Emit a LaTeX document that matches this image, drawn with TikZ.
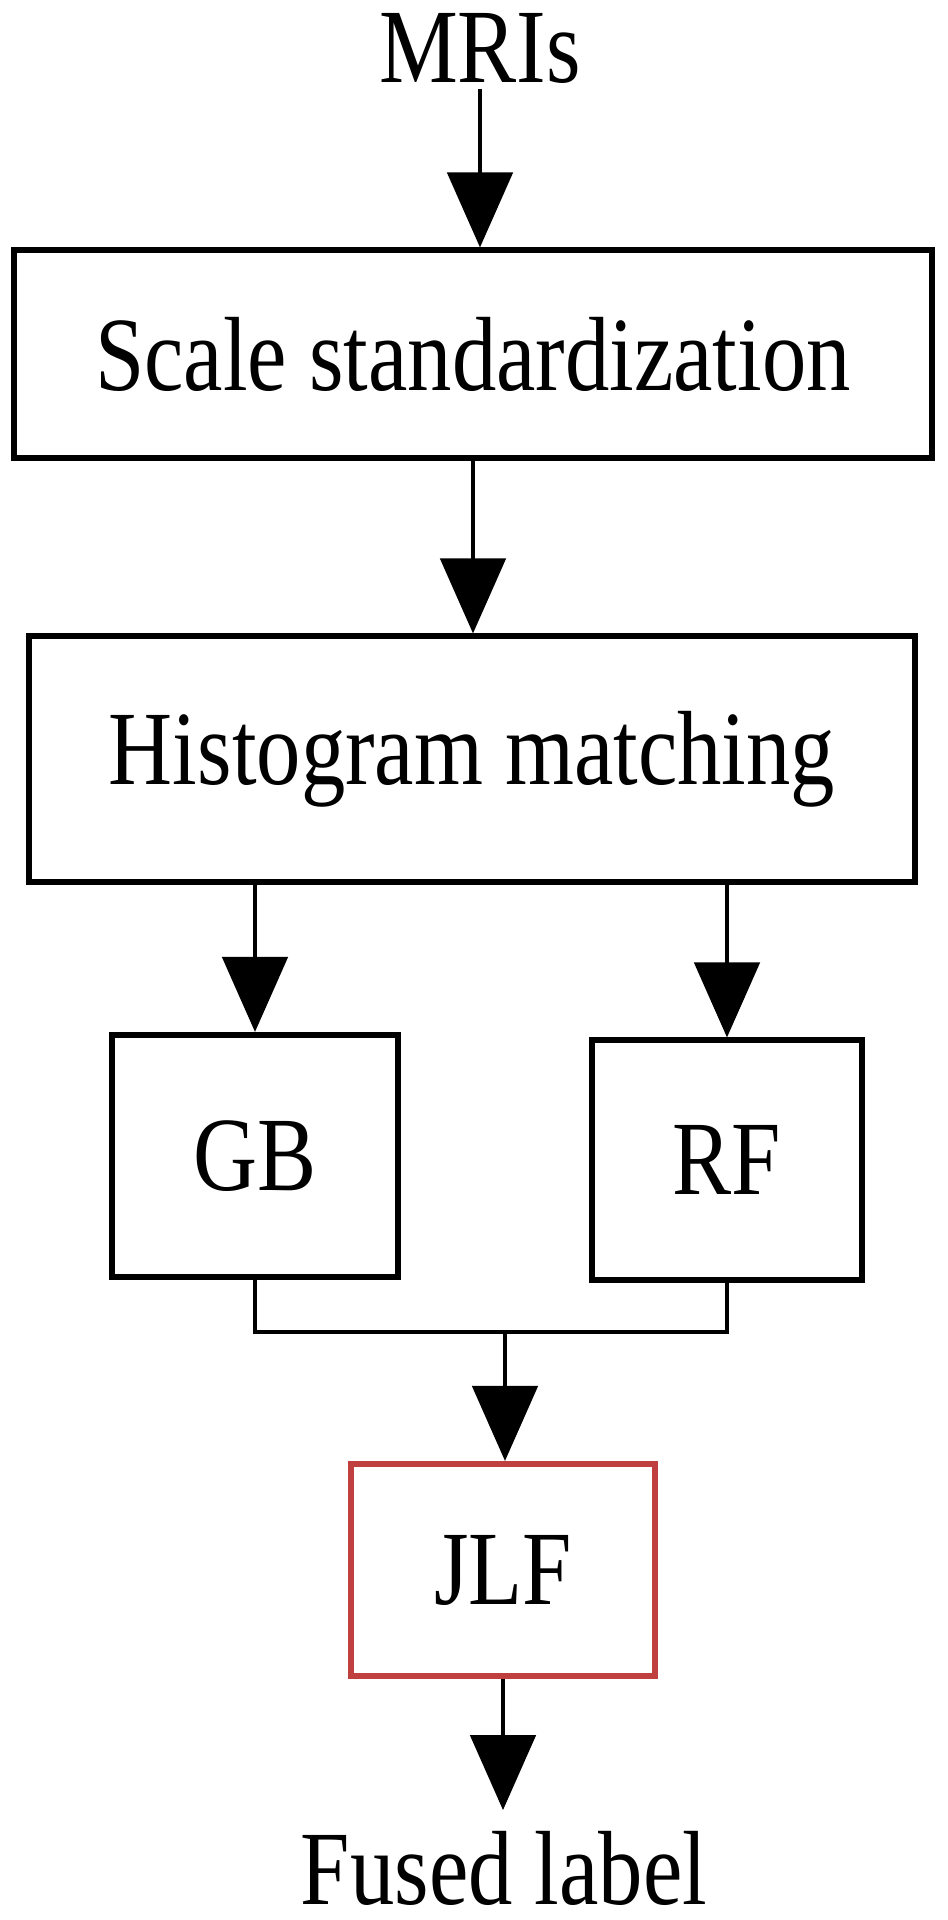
\documentclass[tikz,border=0pt]{standalone}
\usepackage{fontspec}
\setmainfont[FakeStretch=0.84]{Liberation Serif}
\usetikzlibrary{arrows.meta}
\definecolor{jlfred}{RGB}{192,64,64}
\tikzset{
txt/.style={inner sep=0pt, font=\fontsize{30}{36}\selectfont},
box/.style={txt, draw, line width=1.7pt},
flow/.style={line width=1.4pt, -{Triangle[length=7.5mm,width=6.5mm]}},
}

\begin{document}
\begin{tikzpicture}[x=0.01cm, y=-0.01cm]
\useasboundingbox (0,0) rectangle (947,1920);

\node[txt, anchor=base] (mri) at (480,82) {MRIs};
\node[box, minimum width=9.17cm, minimum height=2.07cm] (scale) at (473,354) {Scale standardization};
\node[box, minimum width=8.86cm, minimum height=2.45cm] (hist) at (472,759) {Histogram matching};
\node[box, minimum width=2.86cm, minimum height=2.42cm] (gb) at (255,1156) {GB};
\node[box, minimum width=2.70cm, minimum height=2.39cm] (rf) at (727,1160) {RF};
\node[box, draw=jlfred, minimum width=3.03cm, minimum height=2.12cm] (jlf) at (503,1570) {JLF};
\node[txt, anchor=base] (fused) at (504,1904) {Fused label};
\coordinate (join) at (505,1332);

\draw[flow, shorten <=0.5mm] (mri.south) -- (mri.south |- scale.north);
\draw[flow] (scale.south) -- (scale.south |- hist.north);
\draw[flow] (gb.north |- hist.south) -- (gb.north);
\draw[flow] (rf.north |- hist.south) -- (rf.north);
\draw[line width=1.4pt] (gb.south) |- (join) -| (rf.south);
\draw[flow] (join) -- (join |- jlf.north);
\draw[flow, shorten >=2mm] (jlf.south) -- (jlf.south |- fused.north);
\end{tikzpicture}
\end{document}
